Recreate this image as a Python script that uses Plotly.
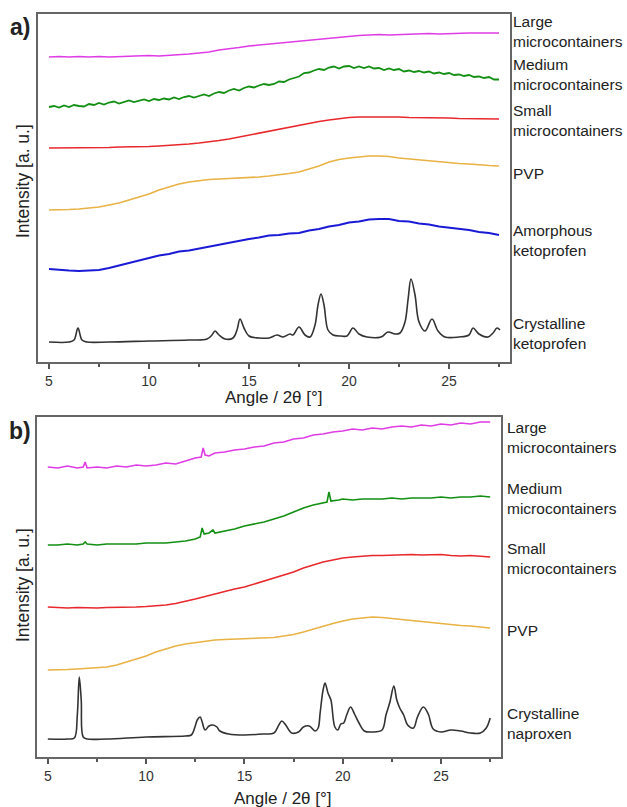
import plotly.graph_objects as go

# ---------------- Panel a data (ketoprofen) ----------------
x_half = [5.0 + 0.5 * i for i in range(46)]
x_quarter = [5.0 + 0.25 * i for i in range(91)]

a_large = [305, 305.5, 305, 305.5, 305, 305.5, 305, 305.5, 306, 306, 306.5, 306, 306.5, 307, 308, 309,
           310, 312, 313, 314.5, 316, 317, 318, 319, 320, 321, 322, 322.5, 324, 325, 326, 326.5, 327,
           327.5, 327, 327.5, 327.5, 328, 328.5, 328, 328.5, 328.5, 329, 329, 329, 329]
a_medium = [255, 256, 254.5, 256.5, 255, 257, 256, 255.5, 258, 257, 259, 257.5, 259.5, 260.5, 258.5, 260,
            261.5, 260, 261.5, 262.5, 261, 263, 262, 263.5, 262.5, 264.5, 263, 265, 266, 264.5, 266, 267.5,
            266, 268.5, 270, 269, 271.5, 273, 271.5, 274, 275.5, 274.5, 276.5, 278, 277, 278, 280.5, 280,
            282.5, 284, 285.5, 289, 289.5, 291.5, 293, 292, 294.5, 295.5, 293.5, 295.5, 296, 294, 295.5,
            294, 295.5, 293.5, 294, 292, 293.5, 292, 293, 290.5, 291.5, 290, 291, 289.5, 290.5, 288.5,
            289.5, 288, 289, 287, 287.5, 286, 287, 285, 285.5, 284, 285, 282.5, 282.5]
a_small = [214, 214, 214, 214.5, 214, 214.5, 214.5, 215, 215, 215, 215.5, 216, 216.5, 217, 218, 219, 220,
           221.5, 223, 225, 227, 229, 231, 233, 235, 237, 239, 240.5, 242, 243.5, 244.5, 245, 245, 245.5,
           245, 245, 244.5, 244.5, 244, 244.5, 244, 243.5, 243.5, 243, 243, 243]
a_pvp = [152, 152, 152.5, 153, 154, 155, 157, 159, 162, 165, 168, 172, 175, 178, 180, 181.5, 182.5, 183,
         183.5, 184, 184, 185, 186, 187, 188.5, 190, 193, 196, 200, 202.5, 204, 205, 206, 206, 205.5, 204,
         203, 202, 201, 200, 199, 198.5, 198, 197, 196.5, 196]
a_amorph = [93, 92, 91.5, 91, 91.5, 92, 94, 96.5, 99, 101, 104, 106.5, 108, 110.5, 111.5, 113.5, 115, 117.5,
            119, 121.5, 123, 124.5, 126.5, 127, 128.5, 129, 131.5, 133, 135.5, 137, 139.5, 140.5, 142.5, 143,
            143, 141, 140.5, 138.5, 137.5, 135.5, 134.5, 133, 132, 130, 129, 127]

a_cryst_x = [5.0, 6.0, 6.25, 6.45, 6.65, 6.9, 8.0, 10.0, 12.0, 12.9, 13.15, 13.3, 13.5, 13.8, 14.2, 14.4,
             14.55, 14.75, 15.0, 15.5, 16.0, 16.4, 16.7, 17.05, 17.2, 17.5, 17.8, 18.05, 18.3, 18.45, 18.6,
             18.75, 18.95, 19.2, 19.6, 19.9, 20.2, 20.5, 20.9, 21.6, 21.95, 22.3, 22.55, 22.8, 22.95, 23.1,
             23.3, 23.5, 23.8, 24.15, 24.45, 24.8, 25.5, 26.0, 26.2, 26.5, 26.95, 27.2, 27.4, 27.55]
a_cryst = [20, 20, 22, 34, 22, 20, 20, 21, 22, 23, 27, 31, 27, 23, 24, 32, 43, 34, 26, 24, 24, 27, 25, 28,
           27, 35, 27, 25, 37, 57, 68, 57, 32, 27, 26, 26, 34, 28, 25, 25, 30, 28, 29, 40, 62, 83, 67, 40,
           31, 43, 31, 25, 25, 27, 34, 28, 25, 29, 34, 32]

# ---------------- Panel b data (naproxen) ----------------
b_large_x = [5.0, 5.5, 6.0, 6.5, 6.8, 6.9, 7.0, 7.5, 8.0, 8.5, 9.0, 9.5, 10.0, 10.5, 11.0, 11.5, 12.0, 12.5,
             12.8, 12.9, 13.0, 13.2, 13.5, 14.0, 14.5, 15.0, 15.5, 16.0, 16.5, 17.0, 17.5, 18.0, 18.5, 19.0,
             19.5, 20.0, 20.5, 21.0, 21.5, 22.0, 22.5, 23.0, 23.5, 24.0, 24.5, 25.0, 25.5, 26.0, 26.5, 27.0, 27.5]
b_large = [290, 289, 291, 289, 290, 295, 289, 290, 289, 291, 290, 292, 291, 292, 294, 293, 296, 299, 300,
           309, 302, 301, 304, 305, 307, 308, 310, 311, 314, 315, 318, 319, 322, 323, 325, 326, 328, 327,
           329, 328, 330, 331, 330, 332, 331, 333, 332, 334, 333, 335, 335]
b_medium_x = [5.0, 5.5, 6.0, 6.5, 6.8, 6.9, 7.0, 7.5, 8.0, 8.5, 9.0, 9.5, 10.0, 10.5, 11.0, 11.5, 12.0, 12.5,
              12.75, 12.85, 12.95, 13.2, 13.4, 13.5, 14.0, 14.5, 15.0, 15.5, 16.0, 16.5, 17.0, 17.5, 18.0,
              18.5, 19.0, 19.2, 19.3, 19.4, 19.8, 20.0, 20.5, 21.0, 21.5, 22.0, 22.5, 23.0, 23.5, 24.0, 24.5,
              25.0, 25.5, 26.0, 26.5, 27.0, 27.5]
b_medium = [212, 212, 213, 212, 213, 215, 213, 212, 213, 213, 213, 213, 214, 214, 214, 215, 216, 218, 220,
            229, 223, 224, 227, 224, 226, 228, 231, 233, 235, 238, 241, 245, 249, 252, 254, 255, 265, 256,
            257, 258, 257, 258, 258, 258, 259, 258, 259, 259, 259, 260, 259, 260, 260, 261, 260]
b_small = [150, 149.5, 149, 149.5, 149, 149, 149.5, 149.5, 150, 150, 150.5, 151, 152, 153.5, 155.5, 158,
           160.5, 163, 166, 168, 170, 173, 176, 179, 182, 185, 189, 192, 195, 197, 199, 200, 201, 201.5,
           201.5, 202, 202, 202.5, 202, 202, 202.5, 201.5, 201, 201.5, 200.5, 200]
b_pvp = [87, 87, 87.5, 88, 88.5, 89, 90, 92, 95, 98, 101, 105, 108, 111, 113, 114.5, 116, 117, 117.5, 118,
         118, 118.5, 119, 119.5, 121, 122.5, 125, 128, 131, 133.5, 136, 138, 139, 140, 139.5, 138.5, 137,
         136, 135, 134, 133, 132.5, 131.5, 131, 130, 129]
b_cryst_x = [5.0, 6.0, 6.35, 6.5, 6.6, 6.7, 6.8, 7.0, 8.0, 10.0, 12.0, 12.3, 12.5, 12.6, 12.75, 12.85, 13.0,
             13.2, 13.4, 13.6, 13.75, 14.2, 15.0, 16.0, 16.5, 16.75, 16.9, 17.1, 17.4, 17.75, 18.0, 18.3,
             18.6, 18.75, 18.85, 19.0, 19.1, 19.25, 19.4, 19.6, 19.75, 19.9, 20.05, 20.2, 20.4, 20.6, 20.8,
             21.1, 21.5, 22.0, 22.2, 22.4, 22.6, 22.75, 22.9, 23.1, 23.3, 23.6, 23.8, 24.1, 24.35, 24.6,
             25.0, 25.5, 26.0, 26.5, 27.0, 27.3, 27.5]
b_cryst = [18, 18, 19, 42, 80, 57, 20, 18, 18, 20, 21, 22, 31, 37, 40, 35, 27, 31, 32, 30, 26, 23, 22, 23,
           24, 32, 36, 32, 24, 25, 30, 31, 26, 29, 44, 67, 74, 64, 57, 30, 27, 33, 34, 42, 50, 43, 35, 26,
           25, 27, 42, 55, 71, 57, 49, 42, 32, 29, 40, 50, 43, 28, 25, 27, 26, 24, 24, 29, 39]

tick_vals = [5, 10, 15, 20, 25]
minor_vals = [7.5, 12.5, 17.5, 22.5, 27.5]
x_title = "Angle / 2θ [°]"
y_title = "Intensity [a. u.]"
labels_a = ["Large<br>microcontainers", "Medium<br>microcontainers", "Small<br>microcontainers", "PVP",
            "Amorphous<br>ketoprofen", "Crystalline<br>ketoprofen"]
labels_b = ["Large<br>microcontainers", "Medium<br>microcontainers", "Small<br>microcontainers", "PVP",
            "Crystalline<br>naproxen"]

C_MAG = "#e03ce6"
C_GRN = "#138f13"
C_RED = "#e8282c"
C_ORG = "#e8b244"
C_BLU = "#1a1ad6"
C_BLK = "#333333"

fig = go.Figure()

def add(x, y, color, xa, ya, width=1.6, shape="linear"):
    fig.add_trace(go.Scatter(x=x, y=y, mode="lines", xaxis=xa, yaxis=ya,
                             line=dict(color=color, width=width, shape=shape),
                             showlegend=False, hoverinfo="skip"))

add(x_half, a_large, C_MAG, "x", "y")
add(x_quarter, a_medium, C_GRN, "x", "y", 1.8)
add(x_half, a_small, C_RED, "x", "y")
add(x_half, a_pvp, C_ORG, "x", "y")
add(x_half, a_amorph, C_BLU, "x", "y", 1.9)
add(a_cryst_x, a_cryst, C_BLK, "x", "y", 1.6, "spline")

add(b_large_x, b_large, C_MAG, "x2", "y2")
add(b_medium_x, b_medium, C_GRN, "x2", "y2")
add(x_half, b_small, C_RED, "x2", "y2")
add(x_half, b_pvp, C_ORG, "x2", "y2")
add(b_cryst_x, b_cryst, C_BLK, "x2", "y2", 1.6, "spline")

FONT = "Liberation Sans, Arial, sans-serif"
W, H = 627, 807

def xax(domain, anchor):
    return dict(domain=domain, anchor=anchor, range=[4.45, 28.05], tickvals=tick_vals,
                ticks="outside", ticklen=5, tickwidth=1.5, tickcolor="#555",
                minor=dict(tickvals=minor_vals, ticks="outside", ticklen=3,
                           tickwidth=1.5, tickcolor="#555"),
                showline=True, mirror=True, linecolor="#666", linewidth=2,
                showgrid=False, zeroline=False,
                tickfont=dict(family=FONT, size=14, color="#333"))

def yax(domain, anchor, rng):
    return dict(domain=domain, anchor=anchor, range=rng, showticklabels=False, ticks="",
                showline=True, mirror=True, linecolor="#666", linewidth=2,
                showgrid=False, zeroline=False)

fig.update_layout(
    width=W, height=H, margin=dict(l=0, r=0, t=0, b=0),
    paper_bgcolor="white", plot_bgcolor="white",
    xaxis=xax([38 / W, 510 / W], "y"),
    yaxis=yax([1 - 362 / H, 1 - 14 / H], "x", [0, 348]),
    xaxis2=xax([37 / W, 501 / W], "y2"),
    yaxis2=yax([1 - 757 / H, 1 - 417 / H], "x2", [0, 340]),
)

ann = []
def text(s, px, py, size=15, xanchor="left", bold=False, angle=0):
    ann.append(dict(text=f"<b>{s}</b>" if bold else s, x=px / W, y=1 - py / H, xref="paper", yref="paper",
                    xanchor=xanchor, yanchor="middle", showarrow=False, textangle=angle,
                    font=dict(family=FONT, size=size, color="#222"), align="left"))

text("a)", 8, 27, 23, bold=True)
text("b)", 7, 431, 23, bold=True)
for s, py in zip(labels_a, [32, 75, 120, 173, 240, 334]):
    text(s, 511, py, 15.5)
for s, py in zip(labels_b, [437, 498, 558, 630, 723]):
    text(s, 505, py, 15.5)
text(x_title, 274, 397, 17, xanchor="center")
text(x_title, 283, 798, 17, xanchor="center")
text(y_title, 23, 181, 17.5, xanchor="center", angle=-90)
text(y_title, 23, 585, 17.5, xanchor="center", angle=-90)
fig.update_layout(annotations=ann)

fig.write_html("out.html")
